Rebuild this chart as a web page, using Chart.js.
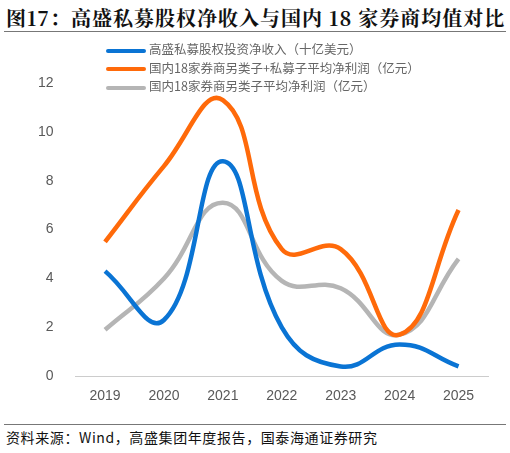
<!DOCTYPE html><html><head><meta charset="utf-8">
<script src="https://cdn.jsdelivr.net/npm/chart.js@4"></script>
<style>
body{margin:0;width:510px;height:453px;background:#fff;position:relative;font-family:"Noto Sans CJK SC",sans-serif;overflow:hidden}
#t{position:absolute;left:6px;top:3px;font:bold 20px "Noto Serif CJK SC","Noto Sans CJK SC",serif;color:#111;letter-spacing:1px}
#l1{position:absolute;left:4px;right:4px;top:31px;border-top:1.5px solid #777}
#l2{position:absolute;left:4px;right:4px;top:424px;border-top:1px solid #777}
#s{position:absolute;left:6px;top:427px;font-size:14px;color:#111;letter-spacing:0.6px}
#c{position:absolute;left:0;top:34px}
#lg{position:absolute;left:106px;top:40px;font-size:12.5px;color:#666;line-height:18.5px}
#lg span{display:inline-block;width:40px;height:4px;border-radius:2px;vertical-align:middle;margin-right:3px}
</style></head><body>
<div id="t">图17：高盛私募股权净收入与国内 18 家券商均值对比</div>
<div id="l1"></div>
<canvas id="c" width="510" height="388"></canvas>
<div id="lg"><div><span style="background:#0a74d4"></span>高盛私募股权投资净收入（十亿美元）</div><div><span style="background:#ff6a0a"></span>国内18家券商另类子+私募子平均净利润（亿元）</div><div><span style="background:#b5b5b5"></span>国内18家券商另类子平均净利润（亿元）</div></div>
<div id="l2"></div>
<div id="s">资料来源：Wind，高盛集团年度报告，国泰海通证券研究</div>
<script>
const years=["2019","2020","2021","2022","2023","2024","2025"];
const gsPE=[4.3,2.3,8.8,2.0,0.4,1.3,0.4];
const brokersAll=[5.5,8.6,11.3,5.2,5.2,1.7,6.8];
const brokersAlt=[1.9,4.0,7.1,3.9,3.6,1.7,4.8];
const mk=(d,c)=>({data:d,borderColor:c,borderWidth:4.5,pointRadius:0,tension:0.45,fill:false});
new Chart(document.getElementById('c'),{type:'line',data:{labels:years,datasets:[mk(gsPE,'#0a74d4'),mk(brokersAll,'#ff6a0a'),mk(brokersAlt,'#b5b5b5')]},
options:{responsive:false,animation:false,layout:{padding:{left:16,right:22,top:49,bottom:5}},
plugins:{legend:{display:false},tooltip:{enabled:false}},
scales:{x:{offset:true,grid:{display:false,drawTicks:false},border:{color:'#ccc'},ticks:{color:'#595959',font:{size:14},padding:12}},
y:{min:0,max:12,ticks:{stepSize:2,color:'#595959',font:{size:14},padding:22},grid:{display:false,drawTicks:false},border:{display:false}}}}});
</script></body></html>
